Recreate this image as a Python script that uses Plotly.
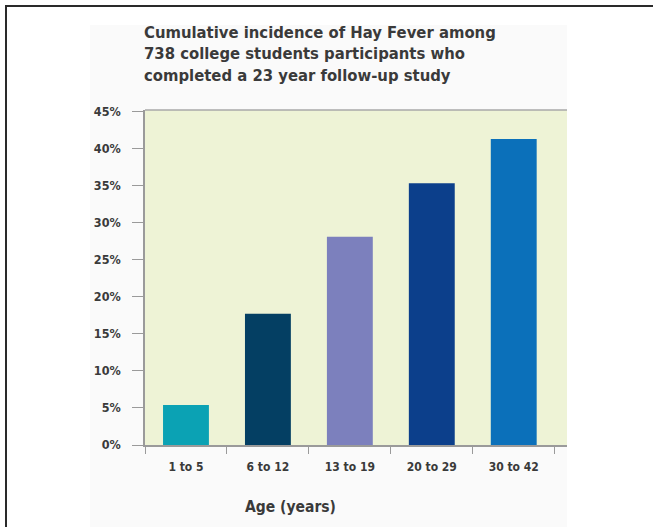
import plotly.graph_objects as go

# Age groups and cumulative incidence (%)
age_groups = ["1 to 5", "6 to 12", "13 to 19", "20 to 29", "30 to 42"]
incidence = [5.4, 17.7, 28.1, 35.3, 41.3]
bar_colors = ["#0ba2b4", "#043f63", "#7c80bd", "#0c3f8b", "#0b70ba"]
y_ticks = [0, 5, 10, 15, 20, 25, 30, 35, 40, 45]
y_tick_labels = [f"{v}%" for v in y_ticks]

title_lines = [
    "Cumulative incidence of Hay Fever among",
    "738 college students participants who",
    "completed a 23 year follow-up study",
]

FONT = "Liberation Sans Narrow, DejaVu Sans Condensed, Arial Narrow, sans-serif"
TEXT = "#3a3a3a"
PLOT_BG = "#eef3d6"

W, H = 653, 527
L, R, T, B = 145, 86, 110, 82
pw, ph = W - L - R, H - T - B


def px_x(x):
    return (x - L) / pw


def px_y(y):
    return (H - B - y) / ph


fig = go.Figure(
    go.Bar(
        x=age_groups,
        y=incidence,
        marker=dict(color=bar_colors, line=dict(width=0)),
        width=0.56,
        hoverinfo="x+y",
    )
)

fig.update_layout(
    width=W,
    height=H,
    margin=dict(l=L, r=R, t=T, b=B, pad=0),
    paper_bgcolor="white",
    plot_bgcolor=PLOT_BG,
    showlegend=False,
    font=dict(family=FONT, color=TEXT, size=12),
    shapes=[
        # faint panel behind the chart
        dict(type="rect", xref="paper", yref="paper",
             x0=px_x(90), x1=px_x(567), y0=px_y(540), y1=px_y(25),
             fillcolor="#fafafa", line=dict(width=0), layer="below"),
        # plot area fill, drawn over the panel
        dict(type="rect", xref="paper", yref="paper",
             x0=0, x1=1, y0=0, y1=1,
             fillcolor=PLOT_BG, line=dict(width=0), layer="below"),
        # top edge of the plot area
        dict(type="line", xref="paper", yref="paper",
             x0=0, x1=1, y0=1, y1=1, line=dict(color="#a8a8a8", width=1.5)),
        # outer frame: top and left rules
        dict(type="line", xref="paper", yref="paper",
             x0=px_x(6), x1=px_x(670), y0=px_y(6), y1=px_y(6),
             line=dict(color="#2a2a2a", width=2)),
        dict(type="line", xref="paper", yref="paper",
             x0=px_x(6), x1=px_x(6), y0=px_y(5), y1=px_y(540),
             line=dict(color="#2a2a2a", width=2)),
    ],
    annotations=[
        dict(text="<br>".join(f"<b>{t}</b>" for t in title_lines),
             xref="paper", yref="paper", x=px_x(142), y=px_y(87),
             xanchor="left", yanchor="bottom", align="left", showarrow=False,
             font=dict(family=FONT, size=16.5, color=TEXT)),
        dict(text="<b>Age (years)</b>", xref="paper", yref="paper",
             x=px_x(290), y=px_y(507), xanchor="center", yanchor="middle",
             showarrow=False, font=dict(family=FONT, size=15.5, color=TEXT)),
    ],
)

fig.update_xaxes(
    type="category",
    range=[-0.5, 4.65],
    showline=True, linecolor="#9a9a9a", linewidth=1.5,
    ticks="outside", tickson="boundaries", ticklen=7, tickcolor="#9a9a9a",
    showgrid=False, zeroline=False,
    tickfont=dict(family=FONT, size=12, color=TEXT),
    ticktext=[f"<b>{g}</b>" for g in age_groups], tickvals=age_groups,
    ticklabelstandoff=10,
)
fig.update_yaxes(
    range=[0, 45.2],
    tickvals=y_ticks, ticktext=[f"<b>{t}</b>" for t in y_tick_labels],
    showline=True, linecolor="#9a9a9a", linewidth=1.5,
    ticks="outside", ticklen=11, tickcolor="#9a9a9a",
    showgrid=False, zeroline=False,
    tickfont=dict(family=FONT, size=12.5, color=TEXT),
    ticklabelstandoff=9,
)

fig.write_html("out.html")
